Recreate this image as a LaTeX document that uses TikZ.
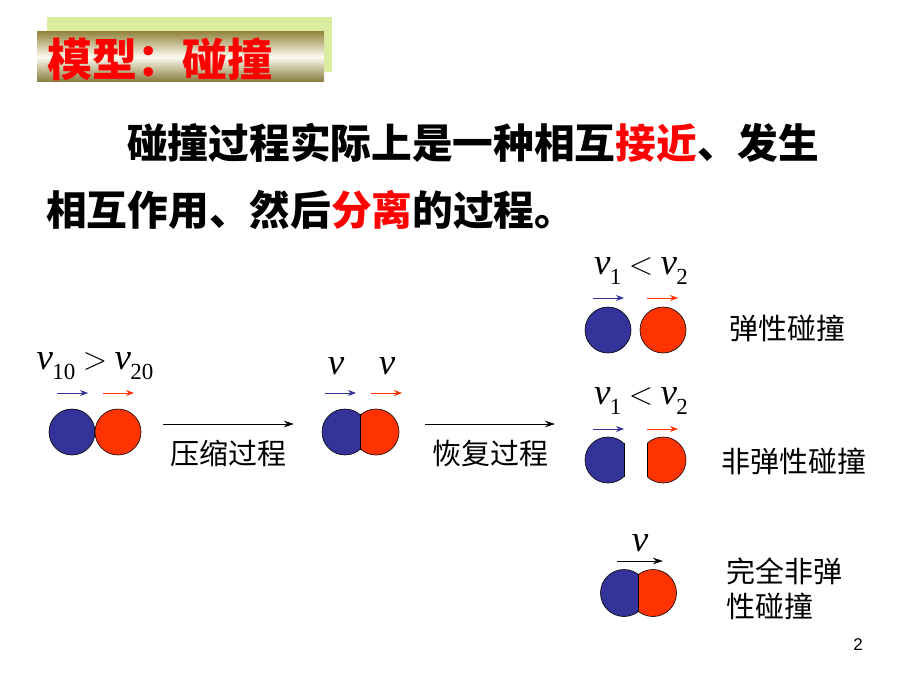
\documentclass[tikz,border=0pt]{standalone}
\usepackage{fontspec}
\setmainfont{Liberation Serif}
\newfontfamily\cjk{Noto Sans CJK SC}
\newfontfamily\pgsans{Liberation Sans}
\newfontfamily\lmrel{Latin Modern Roman}
\usetikzlibrary{arrows.meta}
\definecolor{ballblue}{RGB}{51,51,153}
\definecolor{ballred}{RGB}{255,51,0}
\definecolor{titlered}{RGB}{255,0,0}
\definecolor{backgreen}{RGB}{218,236,160}
\definecolor{oliveA}{RGB}{150,135,65}
\definecolor{oliveB}{RGB}{252,251,240}
\newcommand\vs[1]{\textit{v}\kern-0.02em\raisebox{-0.28em}{\fontsize{23}{23}\selectfont #1}}
\newcommand\rel[1]{\kern0.2em{\lmrel\fontsize{32}{32}\selectfont #1}\kern0.2em}
\tikzset{
  blueball/.style={circle,draw=black,line width=0.6pt,fill=ballblue,minimum size=46pt,inner sep=0pt},
  redball/.style={circle,draw=black,line width=0.6pt,fill=ballred,minimum size=46pt,inner sep=0pt},
  bluearr/.style={draw=ballblue,line width=0.8pt,-{Stealth[length=8pt,width=6pt]}},
  redarr/.style={draw=ballred,line width=0.8pt,-{Stealth[length=8pt,width=6pt]}},
  blackarr/.style={draw=black,line width=0.8pt,-{Stealth[length=10pt,width=6.5pt]}},
  label/.style={inner sep=0pt,font=\cjk\fontsize{29}{32}\selectfont},
  mathlab/.style={inner sep=0pt,font=\fontsize{37}{40}\selectfont},
  body/.style={inner sep=0pt,anchor=west,font=\cjk\bfseries\fontsize{40.7}{44}\selectfont},
}
\begin{document}
\begin{tikzpicture}[x=1pt,y=-1pt]
\useasboundingbox (0,0) rectangle (920,690);
\fill[white] (0,0) rectangle (920,690);
% title
\fill[backgreen] (47,17) rectangle (332,72);
\shade[top color=oliveA,bottom color=oliveA!90!black,middle color=oliveB] (37,32) rectangle (324,82);
\node[inner sep=0pt,anchor=west,text=titlered,font=\cjk\bfseries\fontsize{45}{48}\selectfont] (title) at (47,59) {模型：碰撞};
% body
\node[body] (line1) at (127,143) {碰撞过程实际上是一种相互\textcolor{titlered}{接近}、发生};
\node[body] (line2) at (46,210) {相互作用、然后\textcolor{titlered}{分离}的过程。};
% left pair
\node[mathlab] (vA) at (95,366) {\vs{10}\rel{>}\vs{20}};
\coordinate (a1s) at (57,393); \coordinate (a1e) at (88,393);
\coordinate (a2s) at (103,393); \coordinate (a2e) at (134,393);
\draw[bluearr] (a1s) -- (a1e);
\draw[redarr] (a2s) -- (a2e);
\node[blueball] (b1) at (72,432) {};
\node[redball] (r1) at (118,432) {};
% arrow 1
\coordinate (p1s) at (163,424); \coordinate (p1e) at (294,424);
\draw[blackarr] (p1s) -- (p1e);
\node[label] (lab1) at (228,453) {压缩过程};
% middle pair (overlapping)
\node[mathlab] (vB1) at (336,366) {\textit{v}};
\node[mathlab] (vB2) at (387,366) {\textit{v}};
\coordinate (m1s) at (325,393); \coordinate (m1e) at (356,393);
\coordinate (m2s) at (371,393); \coordinate (m2e) at (402,393);
\draw[bluearr] (m1s) -- (m1e);
\draw[redarr] (m2s) -- (m2e);
\coordinate (mb) at (345,432); \coordinate (mr) at (376,432);
\begin{scope}
  \clip (300,400) rectangle (360.5,470);
  \fill[ballblue] (mb) circle (23);
  \draw[line width=0.6pt] (mb) circle (23);
\end{scope}
\begin{scope}
  \clip (360.5,400) rectangle (420,470);
  \fill[ballred] (mr) circle (23);
  \draw[line width=0.6pt] (mr) circle (23);
\end{scope}
\draw[line width=0.6pt] (360.5,414) -- (360.5,450);
% arrow 2
\coordinate (p2s) at (425,424); \coordinate (p2e) at (555,424);
\draw[blackarr] (p2s) -- (p2e);
\node[label] (lab2) at (490,453) {恢复过程};
% elastic
\node[mathlab] (vC) at (641,271) {\vs{1}\rel{<}\vs{2}};
\coordinate (e1s) at (593,298); \coordinate (e1e) at (624,298);
\coordinate (e2s) at (647,298); \coordinate (e2e) at (678,298);
\draw[bluearr] (e1s) -- (e1e);
\draw[redarr] (e2s) -- (e2e);
\node[blueball] (b3) at (608,330) {};
\node[redball] (r3) at (663,330) {};
\node[label] (lab3) at (787,328) {弹性碰撞};
% inelastic
\node[mathlab] (vD) at (641,401) {\vs{1}\rel{<}\vs{2}};
\coordinate (i1s) at (593,429); \coordinate (i1e) at (624,429);
\coordinate (i2s) at (647,429); \coordinate (i2e) at (678,429);
\draw[bluearr] (i1s) -- (i1e);
\draw[redarr] (i2s) -- (i2e);
\coordinate (ib) at (608,460); \coordinate (ir) at (663,460);
\begin{scope}
  \clip (580,430) rectangle (624,490);
  \fill[ballblue,draw=black,line width=0.6pt] (ib) circle (23);
\end{scope}
\draw[line width=0.6pt] (624,443) -- (624,477);
\begin{scope}
  \clip (647,430) rectangle (700,490);
  \fill[ballred,draw=black,line width=0.6pt] (ir) circle (23);
\end{scope}
\draw[line width=0.6pt] (647,443) -- (647,477);
\node[label] (lab4) at (794,461) {非弹性碰撞};
% perfectly inelastic
\node[mathlab] (vE) at (640,543) {\textit{v}};
\coordinate (k1s) at (617,561); \coordinate (k1e) at (663,561);
\draw[blackarr] (k1s) -- (k1e);
\coordinate (kb) at (624,593); \coordinate (kr) at (653,593);
\begin{scope}
  \clip (590,560) rectangle (638.5,630);
  \fill[ballblue] (kb) circle (23.5);
  \draw[line width=0.6pt] (kb) circle (23.5);
\end{scope}
\begin{scope}
  \clip (638.5,560) rectangle (690,630);
  \fill[ballred] (kr) circle (23.5);
  \draw[line width=0.6pt] (kr) circle (23.5);
\end{scope}
\draw[line width=0.6pt] (638.5,574) -- (638.5,612);
\node[label,anchor=west] (lab5a) at (726,571) {完全非弹};
\node[label,anchor=west] (lab5b) at (726,606) {性碰撞};
% page number
\node[inner sep=0pt,font=\pgsans\fontsize{17}{17}\selectfont] (pg) at (858,645) {2};
\end{tikzpicture}
\end{document}
